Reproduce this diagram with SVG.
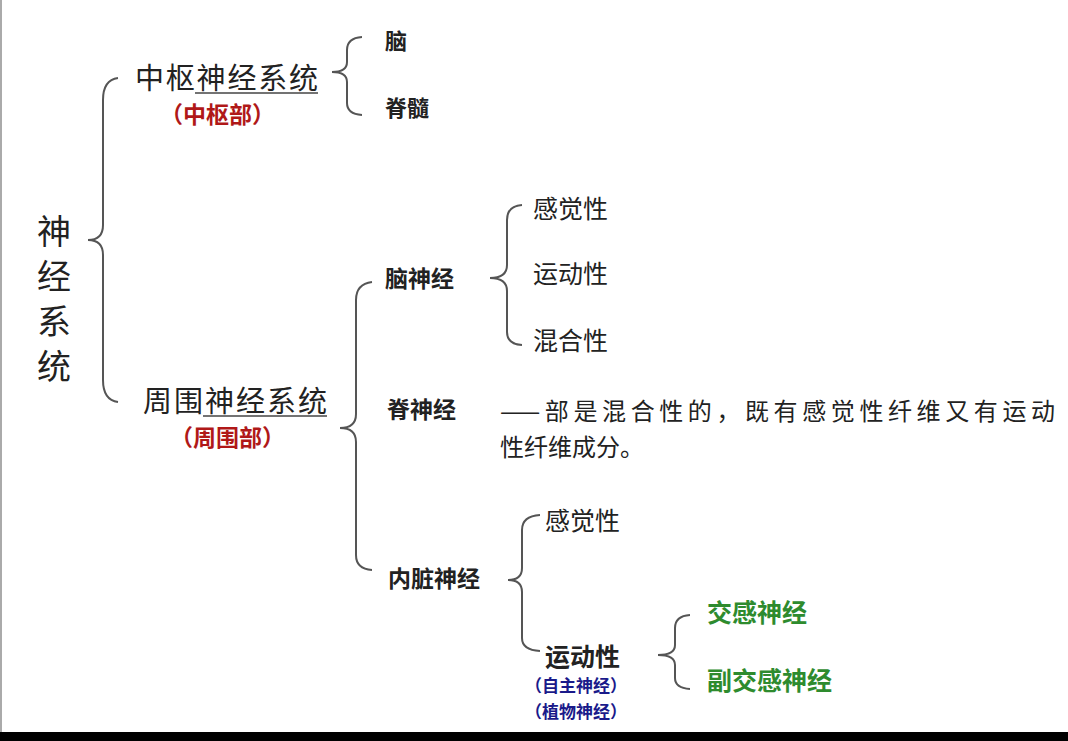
<svg xmlns="http://www.w3.org/2000/svg" width="1068" height="741" viewBox="0 0 1068 741">
<style>
text{font-family:"Noto Sans CJK SC","Noto Sans CJK JP",sans-serif;fill:#222}
.b{fill:none;stroke:#555;stroke-width:2}
.r{fill:#b01818;font-weight:bold}
.g{fill:#2e8b2e}
.bl{fill:#1a1a8a;font-weight:bold}
</style>
<rect width="1068" height="741" fill="#fff"/>
<rect x="0" y="0" width="2" height="733" fill="#aaa"/>
<rect x="0" y="732" width="1068" height="9" fill="#000"/>
<g id="connectors">
<path class="b" d="M118,78 Q103,80 103,100 L103,225 Q103,240 88,240 Q103,240 103,255 L103,380 Q103,400 118,402"/>
<path class="b" d="M362,37 Q347,38 347,50 L347,62 Q347,72 332,72 Q347,72 347,82 L347,103 Q347,114 362,115"/>
<path class="b" d="M372,282 Q356,284 356,300 L356,414 Q356,428 340,428 Q356,428 356,442 L356,555 Q356,569 372,570"/>
<path class="b" d="M522,205 Q507,206 507,220 L507,265 Q507,278 490,278 Q507,278 507,291 L507,332 Q507,344 522,345"/>
<path class="b" d="M540,515 Q522,516 522,530 L522,568 Q522,580 508,580 Q522,580 522,592 L522,638 Q522,650 540,651"/>
<path class="b" d="M690,615 Q675,616 675,628 L675,645 Q675,655 658,655 Q675,655 675,665 L675,678 Q675,688 690,689"/>
<line x1="195" y1="93" x2="318" y2="93" stroke="#444" stroke-width="1.5"/>
<line x1="203" y1="416" x2="327" y2="416" stroke="#444" stroke-width="1.5"/>
</g>
<g id="root"><text font-size="34" x="37" y="244">神</text><text font-size="34" x="37" y="289">经</text><text font-size="34" x="37" y="334">系</text><text font-size="34" x="37" y="379">统</text></g>
<g id="cns"><text font-size="29" x="135" y="89" textLength="183">中枢神经系统</text><text class="r" font-size="23" x="160" y="123">（中枢部）</text></g>
<g id="brain"><text font-size="22" font-weight="bold" x="385" y="49">脑</text></g>
<g id="cord"><text font-size="22" font-weight="bold" x="385" y="116">脊髓</text></g>
<g id="pns"><text font-size="29" x="143" y="412" textLength="184">周围神经系统</text><text class="r" font-size="23" x="170" y="446">（周围部）</text></g>
<g id="cranial"><text font-size="23" font-weight="bold" x="385" y="287">脑神经</text></g>
<g id="c1"><text font-size="25" x="533" y="218">感觉性</text></g>
<g id="c2"><text font-size="25" x="533" y="283">运动性</text></g>
<g id="c3"><text font-size="25" x="533" y="350">混合性</text></g>
<g id="spinal"><text font-size="23" font-weight="bold" x="387" y="418">脊神经</text>
<text font-size="24" x="500" y="420" textLength="555">——部是混合性的，既有感觉性纤维又有运动</text>
<text font-size="24" x="500" y="456">性纤维成分。</text></g>
<g id="visceral"><text font-size="23" font-weight="bold" x="388" y="587">内脏神经</text></g>
<g id="v1"><text font-size="25" x="545" y="530">感觉性</text></g>
<g id="v2"><text font-size="25" font-weight="bold" x="545" y="666">运动性</text><text class="bl" font-size="17" x="525" y="692">（自主神经）</text><text class="bl" font-size="17" x="525" y="718">（植物神经）</text></g>
<g id="sym"><text class="g" font-size="25" font-weight="bold" x="707" y="622">交感神经</text></g>
<g id="para"><text class="g" font-size="25" font-weight="bold" x="707" y="690">副交感神经</text></g>
</svg>
